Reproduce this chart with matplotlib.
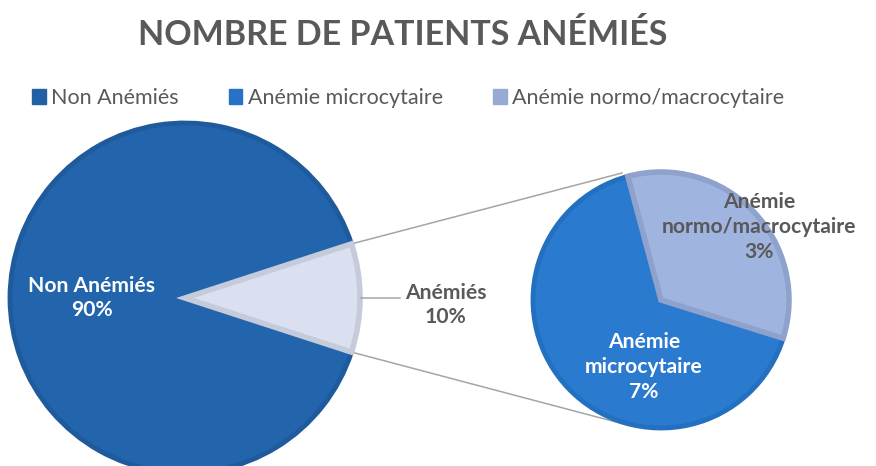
import numpy as np
import matplotlib
matplotlib.use("Agg")
import matplotlib.pyplot as plt

plt.rcParams['font.family'] = ['Lato', 'DejaVu Sans']

# data
main_labels = ['Non Anémiés', 'Anémiés']
main_values = [90, 10]
sub_labels = ['Anémie microcytaire', 'Anémie normo/macrocytaire']
sub_label_lines = ['Anémie\nmicrocytaire', 'Anémie\nnormo/macrocytaire']
sub_values = [6.6, 3.4]

title = 'NOMBRE DE PATIENTS ANÉMIÉS'
grey = '#595959'

fig = plt.figure(figsize=(8.76, 4.66), dpi=100)
ax = fig.add_axes([0, 0, 1, 1])

# main pie
c1, r1 = (185, 168), 175
w1, _ = ax.pie(main_values, center=c1, radius=r1, startangle=18,
               colors=['#2265AC', '#DAE0F0'], frame=True,
               wedgeprops=dict(linewidth=3.5, edgecolor='#1F5B9C'))
w1[1].set_edgecolor('#C5CBDA')
w1[1].set_linewidth(4)

# secondary pie
c2, r2 = (661, 166), 128
w2, _ = ax.pie(sub_values, center=c2, radius=r2, startangle=105,
               colors=['#2A7AD0', '#A0B4E0'], frame=True,
               wedgeprops=dict(linewidth=3.5, edgecolor='#2470C0'))
w2[1].set_edgecolor('#8FA2CB')
w2[1].set_linewidth(4)
ax.set_xlim(0, 876)
ax.set_ylim(0, 466)
ax.set_aspect('equal')
ax.axis('off')

# connector lines
a = np.deg2rad(18)
p_top = (c1[0] + r1 * np.cos(a), c1[1] + r1 * np.sin(a))
p_bot = (c1[0] + r1 * np.cos(a), c1[1] - r1 * np.sin(a))
ax.plot([p_top[0], 622], [p_top[1], 466 - 173], color='#A5A5A5', lw=1.1, zorder=0)
ax.plot([p_bot[0], 631], [p_bot[1], 466 - 426], color='#A5A5A5', lw=1.1, zorder=0)

# data labels
fs = 15.2
ax.text(92, 168, main_labels[0] + '\n' + '%d%%' % main_values[0], color='white',
        fontsize=fs, fontweight='bold', ha='center', va='center', linespacing=1.3)
ax.plot([361, 400], [168, 168], color='#A5A5A5', lw=1.1)
ax.text(446, 161, main_labels[1] + '\n' + '%d%%' % main_values[1], color=grey,
        fontsize=fs, fontweight='bold', ha='center', va='center', linespacing=1.3)
ax.text(644, 466 - 367, sub_label_lines[0] + '\n' + '%d%%' % round(sub_values[0]),
        color='white', fontsize=fs, fontweight='bold', ha='center', va='center',
        linespacing=1.3)
ax.text(759, 466 - 227, sub_label_lines[1] + '\n' + '%d%%' % round(sub_values[1]),
        color=grey, fontsize=fs, fontweight='bold', ha='center', va='center',
        linespacing=1.3)

fig.text(403 / 876, 1 - 35 / 466, title, color=grey, fontsize=24.5,
         fontweight='bold', ha='center', va='center')

# legend
leg_colors = ['#2160A5', '#2672C8', '#98AAD4']
handles = [plt.Rectangle((0, 0), 1, 1, color=c) for c in leg_colors]
fig.legend(handles, [main_labels[0]] + sub_labels, loc='center',
           bbox_to_anchor=(408 / 876, 1 - 98 / 466), ncol=3, frameon=False,
           fontsize=15.5, labelcolor=grey, handlelength=0.65, handleheight=0.65,
           handletextpad=0.25, columnspacing=2.3)

fig.savefig('out.png', dpi=100)
